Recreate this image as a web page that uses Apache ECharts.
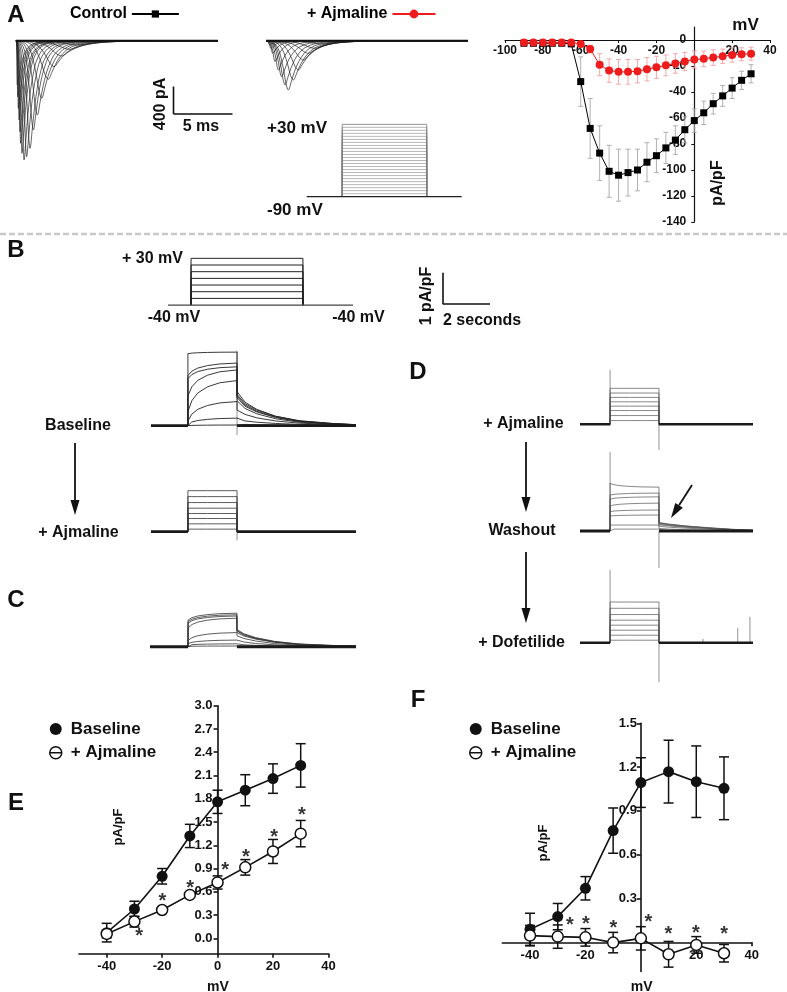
<!DOCTYPE html>
<html><head><meta charset="utf-8">
<script src="https://cdn.jsdelivr.net/npm/echarts@6/dist/echarts.min.js"></script>
<style>html,body{margin:0;padding:0;background:#fff}#c{width:787px;height:992px}</style>
</head><body><div id="c"></div>
<script>
// ================= DATA =================
// Panel A – I–V (pA/pF vs mV)
const ivVoltages = [-90,-85,-80,-75,-70,-65,-60,-55,-50,-45,-40,-35,-30,-25,-20,-15,-10,-5,0,5,10,15,20,25,30];
const ivControl = [-2.5,-2.5,-2.5,-2.5,-2.5,-3,-32,-68,-87,-101,-104,-102,-100,-94,-89,-83,-77,-69,-62,-56,-49,-43,-37,-31,-26];
const ivControlErr = [1,1,1,1,1,1,19,23,21,20,20,18,16,15,13,12,11,10,9,9,8,8,8,7,7];
const ivAjmaline = [-2,-2,-2,-2,-2,-2,-3,-7,-19,-23.5,-24.5,-24.5,-24,-22.5,-21,-19.5,-18,-16.5,-15,-14.5,-13.5,-12.5,-11.5,-11,-10.5];
const ivAjmalineErr = [0.5,0.5,0.5,0.5,0.5,1,1.5,3,8.5,9,9.5,9.5,9,9,8.5,8,7.5,7,6.5,6,6,5.5,5.5,5,5];
const ivXTicks = [-100,-80,-60,-40,-20,20,40];
const ivYTicks = [-140,-120,-100,-80,-60,-40,-20,0];

// Panel A – sodium current traces (peak time ms, peak amplitude pA, decay ms)
const ctrlPeakTime = [0.11,0.14,0.2,0.26,0.34,0.4,0.51,0.69,0.91,1.2,1.49,1.83,2.2,2.77,3.26,3.9,4.6,5.3];
const ctrlPeakAmp  = [-665,-840,-1015,-1190,-1365,-1540,-1690,-1790,-1740,-1615,-1340,-1115,-865,-580,-390,-230,-130,-65];
const ctrlDecay    = [0.45,0.45,0.45,0.45,0.5,0.5,0.5,0.55,0.6,0.65,0.7,0.8,0.9,1.0,1.2,1.4,1.6,1.8];
const ajPeakTime = [0.29,0.4,0.57,0.77,1.06,1.34,1.63,1.91,2.34,2.77,3.2,3.63,4.2,4.9];
const ajPeakAmp  = [-65,-115,-190,-315,-440,-540,-665,-740,-590,-440,-290,-190,-115,-50];
const ajDecay    = [0.5,0.5,0.55,0.6,0.7,0.8,0.85,0.9,1.0,1.1,1.2,1.3,1.4,1.5];
const naSweepEnd = 17.3;
const protoATimes = [0, 3.05, 10.3, 13.3];

// Panel B protocol
const protoBVoltages = [-40,-30,-20,-10,0,10,20,30];
const protoBTimes = [0, 0.98, 5.74, 7.87];

// Panel B traces (pA/pF), times in s: start, step on, step off, end
const bTimes = [0, 1.57, 3.66, 8.72];
const bBaseStart = [0.0,0.05,0.15,0.45,0.95,1.5,1.6,2.3];
const bBaseEnd   = [0.02,0.24,0.77,1.44,1.78,1.88,2.0,2.35];
const bTailTimes = [3.66,4.0,4.5,5.3,6.3,7.7,8.72];
const bBaseTails = [
  [0.05,0.04,0.03,0.02,0.01,0.01,0],
  [0.2,0.15,0.11,0.07,0.04,0.02,0.01],
  [0.5,0.36,0.25,0.15,0.08,0.04,0.02],
  [0.8,0.55,0.38,0.22,0.11,0.05,0.02],
  [0.9,0.62,0.44,0.26,0.13,0.06,0.02],
  [0.95,0.66,0.46,0.28,0.14,0.06,0.03],
  [1.0,0.7,0.5,0.3,0.15,0.07,0.03],
  [1.09,0.75,0.52,0.3,0.16,0.07,0.03]];
const bAjLevels = [0.08,0.25,0.42,0.58,0.75,0.93,1.12,1.31];

// Panel C traces
const cTimes = [0, 1.62, 3.70, 8.77];
const cStart = [0.01,0.05,0.1,0.2,0.6,0.75,0.8,0.85];
const cEnd   = [0.02,0.09,0.21,0.45,0.91,0.98,1.02,1.07];
const cTailTimes = [3.70,4.0,4.5,5.3,6.3,7.7,8.77];
const cTails = [
  [0.02,0.01,0.01,0,0,0,0],
  [0.08,0.06,0.04,0.03,0.02,0.01,0],
  [0.2,0.15,0.1,0.06,0.03,0.02,0.01],
  [0.35,0.26,0.18,0.1,0.05,0.02,0.01],
  [0.45,0.34,0.24,0.14,0.07,0.03,0.01],
  [0.5,0.37,0.26,0.15,0.08,0.03,0.01],
  [0.52,0.39,0.27,0.16,0.08,0.04,0.02],
  [0.55,0.41,0.29,0.17,0.09,0.04,0.02]];

// Panel D traces
const dTimes = [0, 1.28, 3.36, 7.36];
const dAjLevels = [0.12,0.28,0.44,0.58,0.72,0.86,1.0,1.15];
const dAjSpikes = [1.74,-0.82];
const dWashStart = [0.06,0.19,0.48,0.62,0.80,1.02,1.15,1.52];
const dWashEnd   = [0.06,0.19,0.51,0.67,0.89,1.09,1.21,1.40];
const dTailTimes = [3.36,3.8,4.5,5.4,6.4,7.36];
const dWashTails = [
  [0.02,0.01,0.01,0,0,0],
  [0.08,0.06,0.04,0.02,0.01,0],
  [0.15,0.12,0.09,0.06,0.03,0.01],
  [0.2,0.16,0.12,0.08,0.04,0.02],
  [0.22,0.18,0.13,0.09,0.05,0.02],
  [0.25,0.2,0.15,0.1,0.05,0.02],
  [0.26,0.21,0.16,0.1,0.05,0.02],
  [0.27,0.22,0.16,0.11,0.06,0.02]];
const dWashSpikes = [2.52,-1.18];
const dDofLevels = [0.08,0.24,0.4,0.56,0.72,0.9,1.1,1.3];
const dDofSpikes = [2.32,-1.26];
const dDofArtifactT = [5.23,6.71,7.23];
const dDofArtifactA = [0.12,0.47,0.83];

// Panel E
const eVoltages = [-40,-30,-20,-10,0,10,20,30];
const eBaseline = [0.073,0.378,0.80,1.32,1.76,1.91,2.06,2.23];
const eBaselineErr = [0.12,0.1,0.1,0.15,0.15,0.2,0.19,0.28];
const eAjmaline = [0.056,0.215,0.365,0.56,0.72,0.915,1.12,1.35];
const eAjmalineErr = [0.05,0.07,0.03,0.03,0.085,0.1,0.155,0.17];
const eStarX = [-28.3,-19.9,-9.9,2.7,10.2,20.4,30.4];
const eStarY = [0.07,0.52,0.70,0.92,1.10,1.35,1.63];
const eXTicks = [-40,-20,0,20,40];
const eYTicks = [0.0,0.3,0.6,0.9,1.2,1.5,1.8,2.1,2.4,2.7,3.0];

// Panel F
const fVoltages = [-40,-30,-20,-10,0,10,20,30];
const fBaseline = [0.089,0.176,0.37,0.765,1.094,1.169,1.10,1.055];
const fBaselineErr = [0.11,0.09,0.08,0.155,0.17,0.215,0.245,0.215];
const fAjmaline = [0.046,0.039,0.034,-0.002,0.027,-0.082,-0.018,-0.075];
const fAjmalineErr = [0.07,0.08,0.06,0.07,0.08,0.088,0.057,0.06];
const fStarX = [-25.6,-19.8,-9.9,2.7,9.9,19.9,30.1];
const fStarY = [0.142,0.148,0.123,0.16,0.078,0.091,0.084];
const fXTicks = [-40,-20,20,40];
const fYTicks = [0.3,0.6,0.9,1.2,1.5];

// ================= BUILD =================
const FF = '"Liberation Sans", Arial, Helvetica, sans-serif';
const grids = [], xAxes = [], yAxes = [], series = [], gfx = [];

function hiddenGrid(left, top, width, height, xmin, xmax, ymin, ymax) {
  const i = grids.length;
  grids.push({left, top, width, height, containLabel:false});
  xAxes.push({gridIndex:i, type:'value', show:false, min:xmin, max:xmax});
  yAxes.push({gridIndex:i, type:'value', show:false, min:ymin, max:ymax});
  return i;
}
function addLine(gi, data, color, width, extra) {
  series.push(Object.assign({type:'line', xAxisIndex:gi, yAxisIndex:gi, data, symbol:'none',
    silent:true, animation:false, lineStyle:{color, width}, z:2}, extra || {}));
}
// trace shape templates (style only)
const riseU = [0,0.3,0.5,0.65,0.8,0.9,1];
const riseF = [0,0.03,0.12,0.3,0.62,0.88,1];
const decayU = [0.3,0.6,1,1.5,2,3,4.5,7];
const decayF = [0.82,0.62,0.42,0.26,0.16,0.07,0.025,0.008];
function naTraces(gi, tp, amp, dec) {
  tp.forEach((t, k) => {
    const pts = riseU.map((u, i) => [u * t, riseF[i] * amp[k]]);
    decayU.forEach((v, i) => { const tt = t + v * dec[k]; if (tt < naSweepEnd - 0.2) pts.push([tt, decayF[i] * amp[k]]); });
    pts.push([naSweepEnd, 0]);
    addLine(gi, pts, '#222', 0.7, {smooth:0.35});
  });
  addLine(gi, [[0,0],[naSweepEnd,0]], '#111', 2);
}
const stepRiseU = [0,0.08,0.2,0.4,0.65,1];
const stepRiseF = [0,0.35,0.6,0.8,0.93,1];
function stepTraces(gi, times, starts, ends, tailT, tails, color, width, bandW) {
  const [t0, on, off, end] = times;
  starts.forEach((s, k) => {
    const e = ends[k];
    const pts = [[on, 0]];
    stepRiseU.forEach((u, i) => pts.push([on + u * (off - on), s + (e - s) * stepRiseF[i]]));
    if (tails) tailT.forEach((t, i) => pts.push([t, tails[k][i]]));
    else pts.push([off, 0], [end, 0]);
    addLine(gi, pts, color, width);
  });
  addLine(gi, [[t0,0],[on,0]], '#1a1a1a', bandW);
  addLine(gi, [[off,0],[end,0]], '#1a1a1a', bandW);
}
function spike(gi, t, v) { addLine(gi, [[t,0],[t,v]], '#777', 0.8); }
function addErr(gi, xs, ys, es, color, width, cap, z) {
  series.push({type:'custom', xAxisIndex:gi, yAxisIndex:gi, silent:true, animation:false, z:z,
    data: xs.map((x, i) => [x, ys[i] - es[i], ys[i] + es[i]]),
    encode:{x:0, y:[1,2]},
    renderItem:(p, api) => {
      const x = api.value(0);
      const lo = api.coord([x, api.value(1)]), hi = api.coord([x, api.value(2)]);
      const st = {stroke:color, lineWidth:width};
      return {type:'group', children:[
        {type:'line', shape:{x1:lo[0], y1:lo[1], x2:hi[0], y2:hi[1]}, style:st},
        {type:'line', shape:{x1:lo[0]-cap, y1:lo[1], x2:lo[0]+cap, y2:lo[1]}, style:st},
        {type:'line', shape:{x1:hi[0]-cap, y1:hi[1], x2:hi[0]+cap, y2:hi[1]}, style:st}]};
    }});
}
function stars(gi, xs, ys) {
  series.push({type:'scatter', xAxisIndex:gi, yAxisIndex:gi, silent:true, animation:false, z:6,
    data: xs.map((x, i) => [x, ys[i]]), symbolSize:1, itemStyle:{color:'rgba(0,0,0,0)'},
    label:{show:true, formatter:'*', position:'inside', fontFamily:FF, fontSize:20, fontWeight:'bold', color:'#000', offset:[0,4]}});
}
// axis helper: a real axis crossing at zero, placed with offset (labels follow the line)
function crossAxes(gi, g, xr, yr, xOpt, yOpt, xAtZero) {
  const x0 = g.left + (0 - xr[0]) / (xr[1] - xr[0]) * g.width;
  const y0 = g.top + (yr[1] - 0) / (yr[1] - yr[0]) * g.height;
  xAxes.push(Object.assign({gridIndex:gi, type:'value', min:xr[0], max:xr[1], position:'bottom',
    offset: xAtZero ? -(g.top + g.height - y0) : 0, splitLine:{show:false}}, xOpt));
  yAxes.push(Object.assign({gridIndex:gi, type:'value', min:yr[0], max:yr[1], position:'left',
    offset: -(x0 - g.left), splitLine:{show:false}}, yOpt));
}

// ---- Panel A traces
const gCtrl = hiddenGrid(16, 34.0, 202, 133.3, 0, naSweepEnd, -1900, 100);
naTraces(gCtrl, ctrlPeakTime, ctrlPeakAmp, ctrlDecay);
const gAj = hiddenGrid(266, 34.0, 202, 133.3, 0, naSweepEnd, -1900, 100);
naTraces(gAj, ajPeakTime, ajPeakAmp, ajDecay);

// ---- Panel A protocol
const gPA = hiddenGrid(306.7, 121.3, 155, 78.4, 0, 13.3, -95, 35);
ivVoltages.forEach(v => {
  if (v > -90) addLine(gPA, [[protoATimes[1],-90],[protoATimes[1],v],[protoATimes[2],v],[protoATimes[2],-90]], v === 30 ? '#666' : '#999', 0.7);
});
addLine(gPA, [[protoATimes[0],-90],[protoATimes[3],-90]], '#222', 1.2);

// ---- Panel A I-V
const gIV = grids.length;
const gIVbox = {left:505, top:27, width:265, height:195};
grids.push(Object.assign({containLabel:false}, gIVbox));
const ivLbl = {fontFamily:FF, fontSize:12, fontWeight:'bold', color:'#111'};
const ivLine = {show:true, onZero:false, lineStyle:{color:'#111', width:1.2}};
crossAxes(gIV, gIVbox, [-100, 40], [-140, 10],
  {axisLine:ivLine, axisTick:{show:true, length:3, customValues:ivXTicks, lineStyle:{color:'#111'}},
   axisLabel:Object.assign({margin:5, customValues:ivXTicks}, ivLbl)},
  {axisLine:ivLine, axisTick:{show:true, length:3, customValues:ivYTicks, lineStyle:{color:'#111'}},
   axisLabel:Object.assign({margin:8, customValues:ivYTicks}, ivLbl)}, true);
addErr(gIV, ivVoltages, ivControl, ivControlErr, '#a8a8a8', 0.9, 2.5, 1);
series.push({type:'line', name:'Control', xAxisIndex:gIV, yAxisIndex:gIV, animation:false, silent:true, z:3,
  data: ivVoltages.map((v, i) => [v, ivControl[i]]), symbol:'rect', symbolSize:7,
  itemStyle:{color:'#000'}, lineStyle:{color:'#000', width:1}});
addErr(gIV, ivVoltages, ivAjmaline, ivAjmalineErr, '#f2a0a0', 0.9, 2.5, 4);
series.push({type:'line', name:'+ Ajmaline', xAxisIndex:gIV, yAxisIndex:gIV, animation:false, silent:true, z:5,
  data: ivVoltages.map((v, i) => [v, ivAjmaline[i]]), symbol:'circle', symbolSize:8,
  itemStyle:{color:'#ee1c1c'}, lineStyle:{color:'#ee1c1c', width:1}});

// ---- Panel B protocol
const gPB = hiddenGrid(168, 255, 185, 53.4, 0, protoBTimes[3], -45, 35);
protoBVoltages.forEach(v => {
  if (v > -40) addLine(gPB, [[protoBTimes[1],-40],[protoBTimes[1],v],[protoBTimes[2],v],[protoBTimes[2],-40]], '#222', 1);
});
addLine(gPB, [[protoBTimes[0],-40],[protoBTimes[3],-40]], '#444', 1.3);

// ---- Panel B traces
const gBB = hiddenGrid(151, 344.3, 205, 97, 0, bTimes[3], -0.5, 2.6);
spike(gBB, bTimes[2], 2.4); spike(gBB, bTimes[2], -0.3);
stepTraces(gBB, bTimes, bBaseStart, bBaseEnd, bTailTimes, bBaseTails, '#222', 0.9, 2.6);
const gBA = hiddenGrid(151, 481.6, 205, 65.7, 0, bTimes[3], -0.5, 1.6);
spike(gBA, bTimes[2], -0.28);
stepTraces(gBA, bTimes, bAjLevels, bAjLevels, null, null, '#333', 0.8, 2.6);

// ---- Panel C traces
const gC = hiddenGrid(150, 606, 206, 56.3, 0, cTimes[3], -0.5, 1.3);
stepTraces(gC, cTimes, cStart, cEnd, cTailTimes, cTails, '#333', 0.8, 3);

// ---- Panel D traces
const gDA = hiddenGrid(580, 368, 173, 87.6, 0, dTimes[3], -1.0, 1.8);
spike(gDA, dTimes[1], dAjSpikes[0]); spike(gDA, dTimes[2], dAjSpikes[1]);
stepTraces(gDA, dTimes, dAjLevels, dAjLevels, null, null, '#555', 0.7, 2.4);
const gDW = hiddenGrid(580, 449.6, 173, 122.1, 0, dTimes[3], -1.3, 2.6);
spike(gDW, dTimes[1], dWashSpikes[0]); spike(gDW, dTimes[2], dWashSpikes[1]);
stepTraces(gDW, dTimes, dWashStart, dWashEnd, dTailTimes, dWashTails, '#555', 0.7, 3.2);
const gDD = hiddenGrid(580, 567.6, 173, 115.8, 0, dTimes[3], -1.3, 2.4);
spike(gDD, dTimes[1], dDofSpikes[0]); spike(gDD, dTimes[2], dDofSpikes[1]);
dDofArtifactT.forEach((t, i) => spike(gDD, t, dDofArtifactA[i]));
stepTraces(gDD, dTimes, dDofLevels, dDofLevels, null, null, '#555', 0.7, 2.4);

// ---- Panels E and F
const ivFont = {fontFamily:FF, fontSize:13, fontWeight:'bold', color:'#111'};
function ivPanel(box, yr, xTicks, yTicks, xAtZero, xMargin, yMargin) {
  const gi = grids.length;
  grids.push(Object.assign({containLabel:false}, box));
  const line = {show:true, onZero:false, lineStyle:{color:'#111', width:1.6}};
  crossAxes(gi, box, [-50, 40], yr,
    {axisLine:line, axisTick:{show:true, length:4, customValues:xTicks, lineStyle:{color:'#111', width:1.6}},
     axisLabel:Object.assign({customValues:xTicks, margin:xMargin}, ivFont)},
    {axisLine:line, axisTick:{show:true, length:4, customValues:yTicks, lineStyle:{color:'#111', width:1.6}},
     axisLabel:Object.assign({customValues:yTicks, margin:yMargin, formatter:v => v.toFixed(1)}, ivFont)}, xAtZero);
  return gi;
}
function ivSeries(gi, xs, base, baseErr, aj, ajErr, baseName, ajName) {
  addErr(gi, xs, base, baseErr, '#111', 1.5, 5, 2);
  addErr(gi, xs, aj, ajErr, '#111', 1.5, 5, 2);
  series.push({type:'line', name:baseName, xAxisIndex:gi, yAxisIndex:gi, animation:false, silent:true, z:3,
    data: xs.map((v, i) => [v, base[i]]), symbol:'circle', symbolSize:11,
    itemStyle:{color:'#111'}, lineStyle:{color:'#111', width:1.6}});
  series.push({type:'line', name:ajName, xAxisIndex:gi, yAxisIndex:gi, animation:false, silent:true, z:4,
    data: xs.map((v, i) => [v, aj[i]]), symbol:'circle', symbolSize:11,
    itemStyle:{color:'#fff', borderColor:'#111', borderWidth:1.5}, lineStyle:{color:'#111', width:1.6}});
}
const gE = ivPanel({left:79, top:705.7, width:249.4, height:248.1}, [-0.2, 3.0], eXTicks, eYTicks, false, 6, 5);
ivSeries(gE, eVoltages, eBaseline, eBaselineErr, eAjmaline, eAjmalineErr, 'eBase', 'eAj');
stars(gE, eStarX, eStarY);
const gF = ivPanel({left:502.3, top:723.3, width:249.4, height:248.2}, [-0.2, 1.5], fXTicks, fYTicks, true, 7, 4);
ivSeries(gF, fVoltages, fBaseline, fBaselineErr, fAjmaline, fAjmalineErr, 'fBase', 'fAj');
stars(gF, fStarX, fStarY);

// ---- Legends
const legendNames = {eBase:'Baseline', eAj:'+ Ajmaline', fBase:'Baseline', fAj:'+ Ajmaline'};
const AJ_ICON = 'path://M0,10A10,10,0,1,1,20,10A10,10,0,1,1,0,10ZM0,10L20,10';
const legTxt = {fontFamily:FF, fontSize:17, fontWeight:'bold', color:'#111', padding:[0,0,0,4]};
function ivLegend(left, top, bName, aName) {
  return {left, top, orient:'vertical', padding:0, itemGap:6.7, itemWidth:12, itemHeight:12, selectedMode:false,
    data:[{name:bName, icon:'circle', itemStyle:{color:'#111'}},
          {name:aName, icon:AJ_ICON, itemStyle:{color:'#fff', borderColor:'#111', borderWidth:1.5}}],
    formatter:n => legendNames[n], textStyle:legTxt};
}
const aLegTxt = {fontFamily:FF, fontSize:16, fontWeight:'bold', color:'#000'};
const legends = [
  {left:70, top:6, padding:0, align:'right', itemWidth:47, itemHeight:9, selectedMode:false, data:['Control'], textStyle:aLegTxt},
  {left:307, top:6, padding:0, align:'right', itemWidth:43, itemHeight:11, selectedMode:false, data:['+ Ajmaline'], textStyle:aLegTxt},
  ivLegend(49, 720.5, 'eBase', 'eAj'),
  ivLegend(469, 720.5, 'fBase', 'fAj')
];

// ---- Annotations (text, scale bars, arrows)
function txt(x, y, text, size, opts) {
  gfx.push(Object.assign({type:'text', x, y, silent:true, style:Object.assign({text, font:'bold ' + size + 'px ' + FF, fill:'#111', align:'center', verticalAlign:'middle'}, (opts && opts.style) || {})}, (opts && opts.el) || {}));
}
function seg(x1, y1, x2, y2, w, color, dash) {
  gfx.push({type:'line', silent:true, shape:{x1, y1, x2, y2}, style:{stroke:color || '#111', lineWidth:w, lineDash:dash || null}});
}
function arrow(x1, y1, x2, y2) {
  const dx = x2 - x1, dy = y2 - y1, L = Math.hypot(dx, dy), ux = dx / L, uy = dy / L;
  const hl = 15, hw = 4.5;
  const bx = x2 - ux * hl, by = y2 - uy * hl;
  seg(x1, y1, bx, by, 1.8);
  gfx.push({type:'polygon', silent:true, shape:{points:[[x2, y2], [bx - uy * hw, by + ux * hw], [bx + uy * hw, by - ux * hw]]}, style:{fill:'#111'}});
}
const ROT = {el:{rotation:Math.PI / 2}};
// panel letters
txt(16, 15, 'A', 24); txt(16, 250, 'B', 24); txt(16, 600, 'C', 24); txt(418, 372, 'D', 24);
txt(16, 803, 'E', 24); txt(418, 700, 'F', 24);
// panel A annotations
seg(173.5, 86.5, 173.5, 114, 1.6); seg(173.5, 114, 232.5, 114, 1.6);
txt(160.5, 104, '400 pA', 16, ROT);
txt(201, 127, '5 ms', 16);
txt(267, 128.3, '+30 mV', 17, {style:{align:'left'}});
txt(267, 210.7, '-90 mV', 17, {style:{align:'left'}});
txt(745.5, 25, 'mV', 17);
txt(718, 183, 'pA/pF', 16, ROT);
// separator
seg(0, 234, 787, 234, 2.5, '#c9c9c9', [6, 3]);
// panel B annotations
txt(122, 259, '+ 30 mV', 16, {style:{align:'left'}});
txt(174, 318, '-40 mV', 16); txt(358.5, 318, '-40 mV', 16);
seg(443, 272.7, 443, 304.3, 1.6); seg(443, 304, 490, 304, 1.6);
txt(427, 296, '1 pA/pF', 16, ROT);
txt(443, 321, '2 seconds', 16, {style:{align:'left'}});
txt(78, 426, 'Baseline', 16);
arrow(75, 443, 75, 515);
txt(78.5, 533, '+ Ajmaline', 16);
// panel D annotations
txt(523.5, 424, '+ Ajmaline', 16);
arrow(526, 442, 526, 512);
txt(522, 531, 'Washout', 16);
arrow(526, 552, 526, 623);
txt(521.5, 643, '+ Dofetilide', 16);
arrow(692, 485, 671, 518);
// E/F axis names
txt(218, 987, 'mV', 14); txt(641.7, 987, 'mV', 14);
txt(118, 827, 'pA/pF', 13, ROT); txt(543, 843, 'pA/pF', 13, ROT);

const chart = echarts.init(document.getElementById('c'), null, {renderer:'canvas', width:787, height:992});
chart.setOption({
  backgroundColor:'#fff',
  animation:false,
  grid:grids, xAxis:xAxes, yAxis:yAxes,
  legend:legends,
  series:series,
  graphic:{elements:gfx}
});
</script>
</body></html>
